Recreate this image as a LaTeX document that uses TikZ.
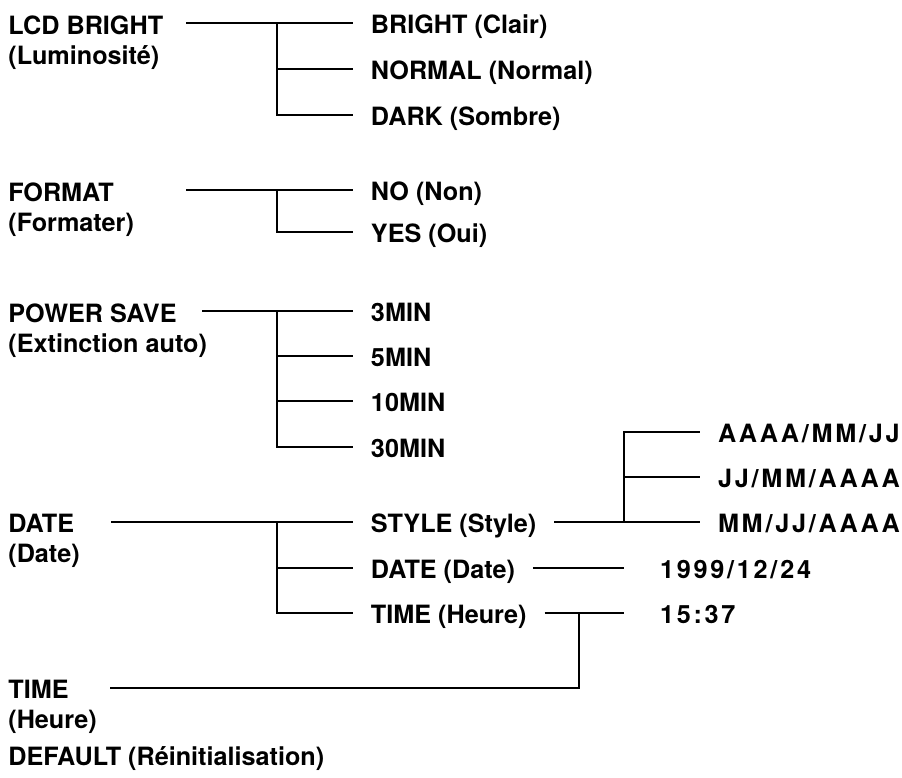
\documentclass[tikz,border=0pt]{standalone}
\usepackage{fontspec}
\setmainfont{TeX Gyre Heros}
\newfontfamily\spacedfont[LetterSpace=11]{TeX Gyre Heros}
\usepackage{tikz}
\usetikzlibrary{positioning}
\tikzset{
  topic/.style={
    anchor=north west,
    inner sep=0pt,
    align=left,
    font=\bfseries\fontsize{12.6}{15}\selectfont
  },
  item/.style={
    anchor=west,
    inner sep=0pt,
    outer xsep=9pt,
    text height=10.5pt,
    text depth=0pt,
    font=\bfseries\fontsize{12.6}{15}\selectfont
  },
  fmtitem/.style={
    item,
    font=\spacedfont\bfseries\fontsize{12.6}{15}\selectfont
  },
  value/.style={
    fmtitem,
    outer xsep=18pt
  },
  wire/.style={
    line width=0.6pt,
    draw=black
  }
}

\begin{document}
\begin{tikzpicture}[x=0.5pt, y=-0.5pt]
  \useasboundingbox (0,0) rectangle (902,778);

  % ------------------------------------------------------------------
  % LCD BRIGHT
  % ------------------------------------------------------------------
  \node[topic] (lcd) at (8,15) {LCD BRIGHT\\(Luminosité)};
  \coordinate (lcdS) at (186,23);
  \coordinate (lcdJ) at (277,23);
  \node[item] (bright) at (353,23) {BRIGHT (Clair)};
  \node[item] (normal) at (353,69) {NORMAL (Normal)};
  \node[item] (dark)   at (353,115) {DARK (Sombre)};
  \draw[wire] (lcdS) -- (bright);
  \draw[wire] (lcdJ) |- (normal);
  \draw[wire] (lcdJ) |- (dark);

  % ------------------------------------------------------------------
  % FORMAT
  % ------------------------------------------------------------------
  \node[topic] (format) at (8,182) {FORMAT\\(Formater)};
  \coordinate (formatS) at (186,190);
  \coordinate (formatJ) at (277,190);
  \node[item] (no)  at (353,190) {NO (Non)};
  \node[item] (yes) at (353,232) {YES (Oui)};
  \draw[wire] (formatS) -- (no);
  \draw[wire] (formatJ) |- (yes);

  % ------------------------------------------------------------------
  % POWER SAVE
  % ------------------------------------------------------------------
  \node[topic] (power) at (8,303) {POWER SAVE\\(Extinction auto)};
  \coordinate (powerS) at (202,311);
  \coordinate (powerJ) at (277,311);
  \node[item] (m3)  at (353,311) {3MIN};
  \node[item] (m5)  at (353,356) {5MIN};
  \node[item] (m10) at (353,401) {10MIN};
  \node[item] (m30) at (353,447) {30MIN};
  \draw[wire] (powerS) -- (m3);
  \draw[wire] (powerJ) |- (m5);
  \draw[wire] (powerJ) |- (m10);
  \draw[wire] (powerJ) |- (m30);

  % ------------------------------------------------------------------
  % DATE
  % ------------------------------------------------------------------
  \node[topic] (date) at (8,514) {DATE\\(Date)};
  \coordinate (dateS) at (111,522);
  \coordinate (dateJ) at (277,522);
  \node[item] (style) at (353,522) {STYLE (Style)};
  \node[item] (day)   at (353,568) {DATE (Date)};
  \node[item] (clock) at (353,613) {TIME (Heure)};
  \draw[wire] (dateS) -- (style);
  \draw[wire] (dateJ) |- (day);
  \draw[wire] (dateJ) |- (clock);

  % date styles
  \coordinate (styleJ) at (624,522);
  \node[fmtitem] (ymd) at (700,432) {AAAA/MM/JJ};
  \node[fmtitem] (dmy) at (700,477) {JJ/MM/AAAA};
  \node[fmtitem] (mdy) at (700,522) {MM/JJ/AAAA};
  \draw[wire] (style) -- (mdy);
  \draw[wire] (styleJ) |- (ymd);
  \draw[wire] (styleJ) |- (dmy);

  % current values
  \node[value] (dayval)   at (624,568) {1999/12/24};
  \node[value] (clockval) at (624,613) {15:37};
  \draw[wire] (day) -- (dayval);
  \draw[wire] (clock) -- (clockval);

  % ------------------------------------------------------------------
  % TIME
  % ------------------------------------------------------------------
  \node[topic] (time) at (8,680) {TIME\\(Heure)};
  \coordinate (timeS) at (110,688);
  \coordinate (timeJ) at (579,613);
  \draw[wire] (timeS) -| (timeJ);

  % ------------------------------------------------------------------
  % DEFAULT
  % ------------------------------------------------------------------
  \node[topic, anchor=base west] (default) at (8,765) {DEFAULT (Réinitialisation)};
\end{tikzpicture}
\end{document}
